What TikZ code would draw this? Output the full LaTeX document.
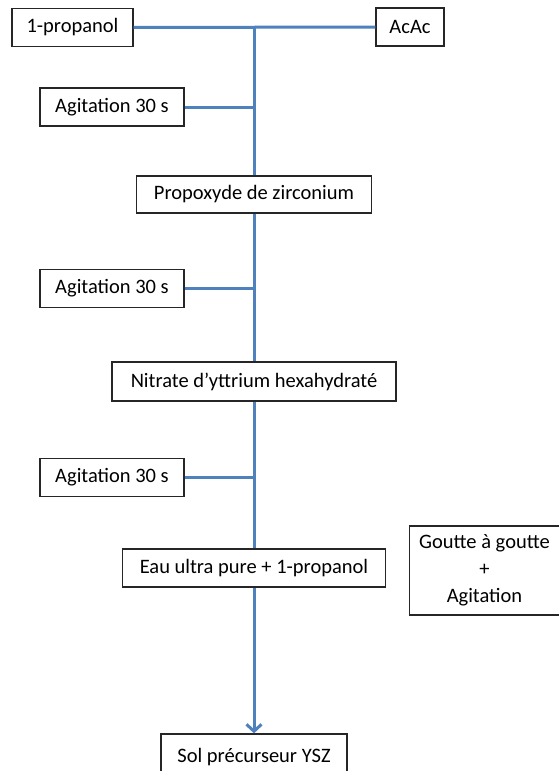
\documentclass[tikz,border=0pt]{standalone}
\usepackage{fontspec}
\setmainfont{Carlito}
\usetikzlibrary{positioning,arrows.meta,calc}
\definecolor{flowblue}{RGB}{79,129,189}
\tikzset{
  box/.style={draw=black!85,line width=1.3pt,fill=white,inner sep=0pt,font=\fontsize{20.5}{27}\selectfont},
  flow/.style={draw=flowblue,line width=3pt}
}
\begin{document}
\begin{tikzpicture}[x=1pt,y=-1pt]
\useasboundingbox[fill=white] (0,0) rectangle (559,771);
\node[box,minimum width=121,minimum height=38] (prop) at (72.5,27.5) {1-propanol};
\node[box,minimum width=68,minimum height=38] (acac) at (410,27) {AcAc};
\coordinate (spine) at (254,28);
\draw[flow] (prop.east) -- (acac.west);
\node[box,minimum width=235,minimum height=37] (propox) at (254,194.5) {Propoxyde de zirconium};
\node[box,minimum width=284,minimum height=39] (nitrate) at (254,381.5) {Nitrate d’yttrium hexahydraté};
\node[box,minimum width=263,minimum height=38] (eau) at (254,568) {Eau ultra pure + 1-propanol};
\node[box,minimum width=186,minimum height=46] (sol) at (254,757) {Sol précurseur YSZ};
\node[box,minimum width=150,minimum height=89,align=center] (goutte) at (484.5,570.5) {Goutte à goutte\\+\\Agitation};
\draw[flow] (spine) -- (propox.north);
\draw[flow] (propox.south) -- (nitrate.north);
\draw[flow] (nitrate.south) -- (eau.north);
\draw[flow,-{Straight Barb[length=7pt,width=15pt,line width=3pt]}] (eau.south) -- (sol.north);
\foreach \i/\y in {1/107,2/288.5,3/477.5}{
  \node[box,minimum width=144,minimum height=38] (agit\i) at (112,\y) {Agitation 30 s};
  \draw[flow] (agit\i.east) -- (agit\i.east -| spine);
}
\end{tikzpicture}
\end{document}
